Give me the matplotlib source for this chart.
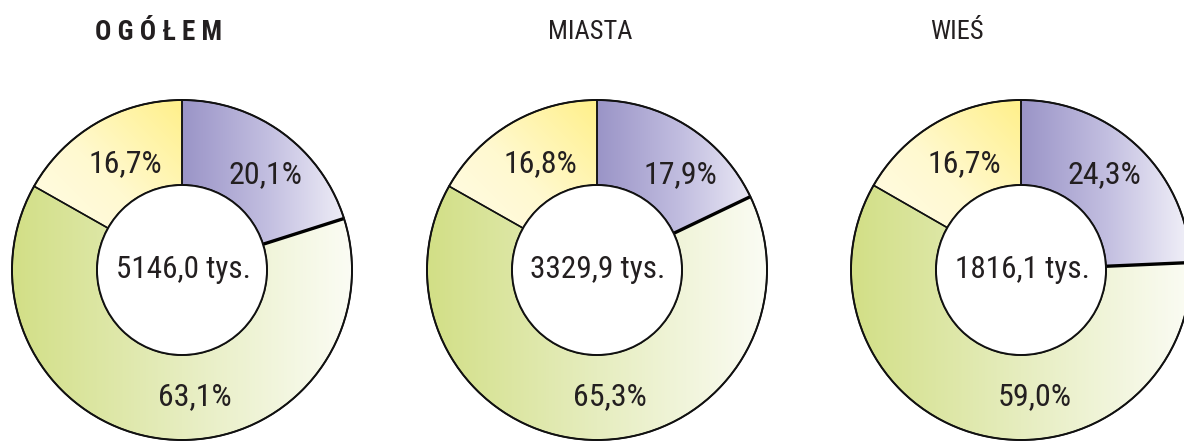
import numpy as np
import matplotlib.pyplot as plt
from matplotlib.patches import Wedge, Circle
from matplotlib.colors import LinearSegmentedColormap
from matplotlib import font_manager

# data
titles = ["O G Ó Ł E M", "MIASTA", "WIEŚ"]
title_bold = [True, False, False]
totals = ["5146,0 tys.", "3329,9 tys.", "1816,1 tys."]
share_purple = [20.1, 17.9, 24.3]
share_green = [63.1, 65.3, 59.0]
share_yellow = [16.7, 16.8, 16.7]

# condensed sans if one is installed
names = {f.name for f in font_manager.fontManager.ttflist}
font = "Liberation Sans"
for cand in ["Roboto Condensed", "Archivo Narrow", "Liberation Sans Narrow", "Asap Condensed"]:
    if cand in names:
        font = cand
        break
plt.rcParams["font.family"] = [font, "DejaVu Sans"]

W, H = 1184, 442
fig = plt.figure(figsize=(W / 100, H / 100), dpi=100)
ax = fig.add_axes([0, 0, 1, 1])
ax.set_xlim(0, W)
ax.set_ylim(0, H)
ax.set_aspect("equal")
ax.axis("off")

centers_x = [182, 597, 1021]
cy = H - 270
r_out, r_in = 170, 85
ring = r_out - r_in

cm_purple = LinearSegmentedColormap.from_list("p", ["#9a94c7", "#c2bee0", "#f2f1f9"])
cm_green = LinearSegmentedColormap.from_list("g", ["#d2df86", "#e6edbf", "#fbfcf4"])
cm_yellow = LinearSegmentedColormap.from_list("y", [(0, "#fffdf0"), (0.55, "#fff9d0"), (1, "#fff08a")])


def gradient_wedge(cx, th1, th2, cmap, direction):
    w = Wedge((cx, cy), r_out, th1, th2, width=ring, facecolor="none",
              edgecolor="#111111", lw=1.1, zorder=3)
    ax.add_patch(w)
    n = 256
    xs = np.linspace(0, 1, n)
    if direction == "h":
        grad = np.tile(xs, (n, 1))
        bx0 = cx - r_out if th2 - th1 > 180 else cx
        bx1, by0, by1 = cx + r_out, cy - r_out, cy + r_out
    else:  # yellow: light at lower left, strong at upper right
        gx, gy = np.meshgrid(xs, xs)
        grad = (gx + gy) / 2
        bx0, bx1 = cx - r_out, cx
        by0, by1 = cy, cy + r_out
    im = ax.imshow(grad, cmap=cmap, origin="lower", extent=[bx0, bx1, by0, by1],
                   aspect="auto", zorder=2, interpolation="bilinear")
    im.set_clip_path(w)


for i, cx in enumerate(centers_x):
    a_top = 90.0
    a_pg = a_top - share_purple[i] * 3.6
    a_gy = a_pg - share_green[i] * 3.6
    gradient_wedge(cx, a_pg, a_top, cm_purple, "h")
    gradient_wedge(cx, a_gy, a_pg, cm_green, "h")
    gradient_wedge(cx, a_top, a_gy + 360, cm_yellow, "d")

    # heavier purple/green boundary
    t = np.deg2rad(a_pg)
    ax.plot([cx + r_in * np.cos(t), cx + r_out * np.cos(t)],
            [cy + r_in * np.sin(t), cy + r_out * np.sin(t)],
            color="black", lw=2.4, zorder=4, solid_capstyle="butt")

    ax.add_patch(Circle((cx, cy), r_out, fill=False, edgecolor="#111111", lw=1.4, zorder=4))
    ax.add_patch(Circle((cx, cy), r_in, facecolor="white", edgecolor="#111111", lw=1.4, zorder=4))

    for ang, r_lab, val in [(49, 127, share_purple[i]), (118, 120, share_yellow[i]),
                            (-84, 127, share_green[i])]:
        t = np.deg2rad(ang)
        ax.text(cx + r_lab * np.cos(t), cy + r_lab * np.sin(t),
                f"{val:.1f}%".replace(".", ","), ha="center", va="center",
                fontsize=23, color="#231f20", zorder=5)
    ax.text(cx + 1, cy, totals[i], ha="center", va="center", fontsize=22.5,
            color="#231f20", zorder=5)

title_x = [159, 590, 957]
for i in range(3):
    ax.text(title_x[i], H - 32, titles[i], ha="center", va="center",
            fontsize=19.5 if title_bold[i] else 19,
            fontweight="bold" if title_bold[i] else "normal", color="#231f20")

fig.savefig("out.png", dpi=100)
